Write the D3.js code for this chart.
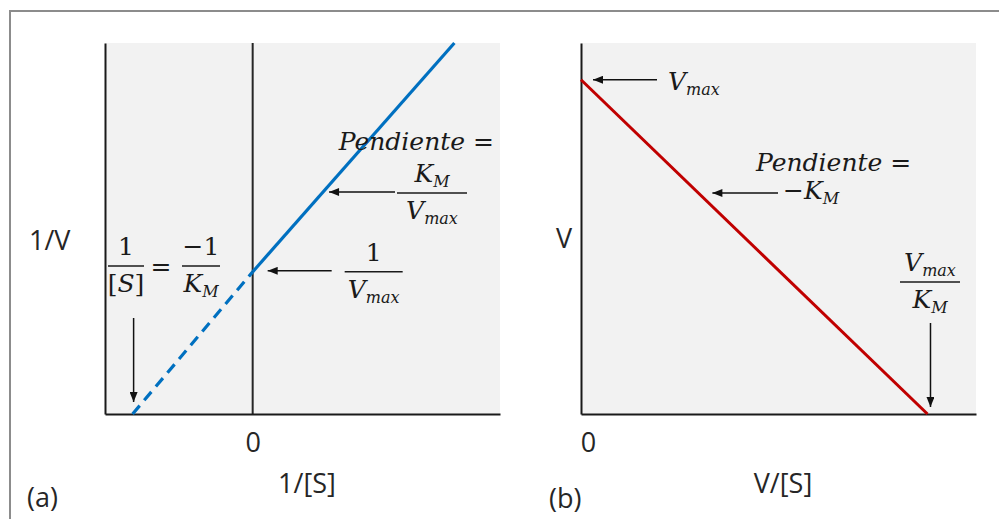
<!DOCTYPE html>
<html>
<head>
<meta charset="utf-8">
<script src="https://cdn.jsdelivr.net/npm/d3@7"></script>
<style>
  body { margin: 0; background: #fff; }
  .lbl { font-family: "Open Sans", sans-serif; font-size: 27px; fill: #262626; }
  .m { font-family: "DejaVu Serif", serif; font-size: 25px; fill: #1a1a1a; }
</style>
</head>
<body>
<svg id="chart" width="999" height="519"></svg>
<script>
// (a) Lineweaver-Burk: 1/V vs 1/[S]
var lbX = [-1, 0, 1.68];
var lbY = [0, 1, 2.61];
var lbDomX = [-1.23, 2.06], lbDomY = [0, 2.61];
// (b) Eadie-Hofstee: V vs V/[S]
var ehX = [0, 1];
var ehY = [1, 0];
var ehDomX = [0, 1.14], ehDomY = [0, 1.11];
var zeroTick = [0];

var svg = d3.select("#chart");

// outer frame
svg.append("rect")
  .attr("x", 10).attr("y", 11).attr("width", 1000).attr("height", 520)
  .attr("fill", "none").attr("stroke", "#8c8c8c").attr("stroke-width", 2);

var defs = svg.append("defs");
defs.append("marker")
  .attr("id", "arr")
  .attr("viewBox", "0 0 10 8")
  .attr("refX", 10).attr("refY", 4)
  .attr("markerWidth", 11).attr("markerHeight", 8)
  .attr("markerUnits", "userSpaceOnUse")
  .attr("orient", "auto")
  .append("path").attr("d", "M0,0L10,4L0,8z").attr("fill", "#111");

// math-ish text: parts = [[text, style]]
function mtext(g, x, y, parts, anchor) {
  var t = g.append("text").attr("class", "m")
    .attr("x", x).attr("y", y)
    .attr("text-anchor", anchor || "start");
  parts.forEach(function(p) {
    var s = t.append("tspan").text(p[0]);
    if (p[1] == "i") s.style("font-style", "italic");
    if (p[1] == "sub") s.style("font-style", "italic").attr("font-size", 16).attr("dy", 5);
  });
  return t;
}
function frac(g, cx, ly, hw, num, den) {
  g.append("line")
    .attr("x1", cx - hw).attr("x2", cx + hw).attr("y1", ly).attr("y2", ly)
    .attr("stroke", "#1a1a1a").attr("stroke-width", 1.5);
  mtext(g, cx, ly - 11, num, "middle");
  mtext(g, cx, ly + 26, den, "middle");
}
function arrow(g, x1, y1, x2, y2) {
  g.append("line")
    .attr("x1", x1).attr("y1", y1).attr("x2", x2).attr("y2", y2)
    .attr("stroke", "#111").attr("stroke-width", 1.5)
    .attr("marker-end", "url(#arr)");
}

var KM = [["K", "i"], ["M", "sub"]],
    VMAX = [["V", "i"], ["max", "sub"]],
    PEND = [["Pendiente ", "i"], ["=", ""]],
    ONE = [["1", ""]],
    S = [["[", ""], ["S", "i"], ["]", ""]],
    MONE = [["\u22121", ""]],
    MKM = [["\u2212", ""], ["K", "i"], ["M", "sub"]];

function panel(x0, x1, y0, y1, domX, domY) {
  var x = d3.scaleLinear().domain(domX).range([x0, x1]);
  var y = d3.scaleLinear().domain(domY).range([y1, y0]);
  var g = svg.append("g");
  g.append("rect")
    .attr("x", x0).attr("y", y0).attr("width", x1 - x0).attr("height", y1 - y0)
    .attr("fill", "#f2f2f2");
  return {x: x, y: y, g: g};
}
function axes(p, zx) {
  var ax = p.g.append("g").attr("transform", "translate(0," + p.y.range()[0] + ")")
    .call(d3.axisBottom(p.x).tickValues(zeroTick).tickFormat(d3.format("d"))
      .tickSize(0).tickSizeOuter(0).tickPadding(19));
  ax.select(".domain").attr("stroke", "#1a1a1a").attr("stroke-width", 2);
  ax.selectAll("text").attr("class", "lbl").attr("font-size", null).attr("font-family", null)
    .attr("dx", zx);
  var ay = p.g.append("g").attr("transform", "translate(" + p.x.range()[0] + ",0)")
    .call(d3.axisLeft(p.y).tickValues([]).tickSizeOuter(0));
  ay.select(".domain").attr("stroke", "#1a1a1a").attr("stroke-width", 2);
}

// ---------- panel (a)
var a = panel(105, 500, 43, 414, lbDomX, lbDomY);
var la = d3.line().x(function(d) { return a.x(d[0]); }).y(function(d) { return a.y(d[1]); });
var lbPts = lbX.map(function(v, i) { return [v, lbY[i]]; });
// y axis at 1/[S] = 0
a.g.append("line")
  .attr("x1", a.x(0)).attr("x2", a.x(0)).attr("y1", a.y.range()[0]).attr("y2", a.y.range()[1])
  .attr("stroke", "#262626").attr("stroke-width", 2);
axes(a, 0);
a.g.append("path").datum(lbPts.slice(0, 2)).attr("d", la)
  .attr("fill", "none").attr("stroke", "#0070c0").attr("stroke-width", 3.2)
  .attr("stroke-dasharray", "11,7");
a.g.append("path").datum(lbPts.slice(1)).attr("d", la)
  .attr("fill", "none").attr("stroke", "#0070c0").attr("stroke-width", 3.2);

// slope note
mtext(a.g, 494, 150, PEND, "end");
frac(a.g, 432, 193, 35, KM, VMAX);
// point on the solid segment at the arrow height
var ySl = 192, tSl = (a.y.invert(ySl) - lbY[1]) / (lbY[2] - lbY[1]);
var xSl = a.x(lbX[1] + tSl * (lbX[2] - lbX[1]));
arrow(a.g, 395, ySl, xSl + 6, ySl);
// intercept 1/Vmax
frac(a.g, a.x(0) + 121, a.y(1), 29, ONE, VMAX);
arrow(a.g, a.x(0) + 79, a.y(1) - 1, a.x(0) + 15, a.y(1) - 1);
// x intercept -1/KM
frac(a.g, 126, 266, 18, ONE, S);
mtext(a.g, 161, 275, [["=", ""]], "middle");
frac(a.g, 201, 266, 19, MONE, KM);
arrow(a.g, a.x(-1) + 1, 318, a.x(-1) + 1, 402);

a.g.append("text").attr("class", "lbl").attr("x", 29).attr("y", 250).text("1/V");
a.g.append("text").attr("class", "lbl").attr("x", 307).attr("y", 493)
  .attr("text-anchor", "middle").text("1/[S]");
a.g.append("text").attr("class", "lbl").attr("x", 27).attr("y", 507).text("(a)");

// ---------- panel (b)
var b = panel(581, 976, 43, 414, ehDomX, ehDomY);
var lb = d3.line().x(function(d) { return b.x(d[0]); }).y(function(d) { return b.y(d[1]); });
axes(b, 7);
b.g.append("path").datum(ehX.map(function(v, i) { return [v, ehY[i]]; })).attr("d", lb)
  .attr("fill", "none").attr("stroke", "#c00000").attr("stroke-width", 3);

mtext(b.g, 668, 90, VMAX);
arrow(b.g, 657, b.y(1), b.x(0) + 12, b.y(1));
mtext(b.g, 756, 171, PEND);
mtext(b.g, 783, 199, MKM);
var yS2 = 193, xS2 = b.x(ehX[1] * (1 - b.y.invert(yS2) / ehY[0]));
arrow(b.g, 778, yS2, xS2 + 14, yS2);
frac(b.g, 930, 282, 30, VMAX, KM);
arrow(b.g, b.x(1) + 3, 323, b.x(1) + 3, 407);

b.g.append("text").attr("class", "lbl").attr("x", 556).attr("y", 248).text("V");
b.g.append("text").attr("class", "lbl").attr("x", 783).attr("y", 493)
  .attr("text-anchor", "middle").text("V/[S]");
b.g.append("text").attr("class", "lbl").attr("x", 549).attr("y", 508).text("(b)");
</script>
</body>
</html>
